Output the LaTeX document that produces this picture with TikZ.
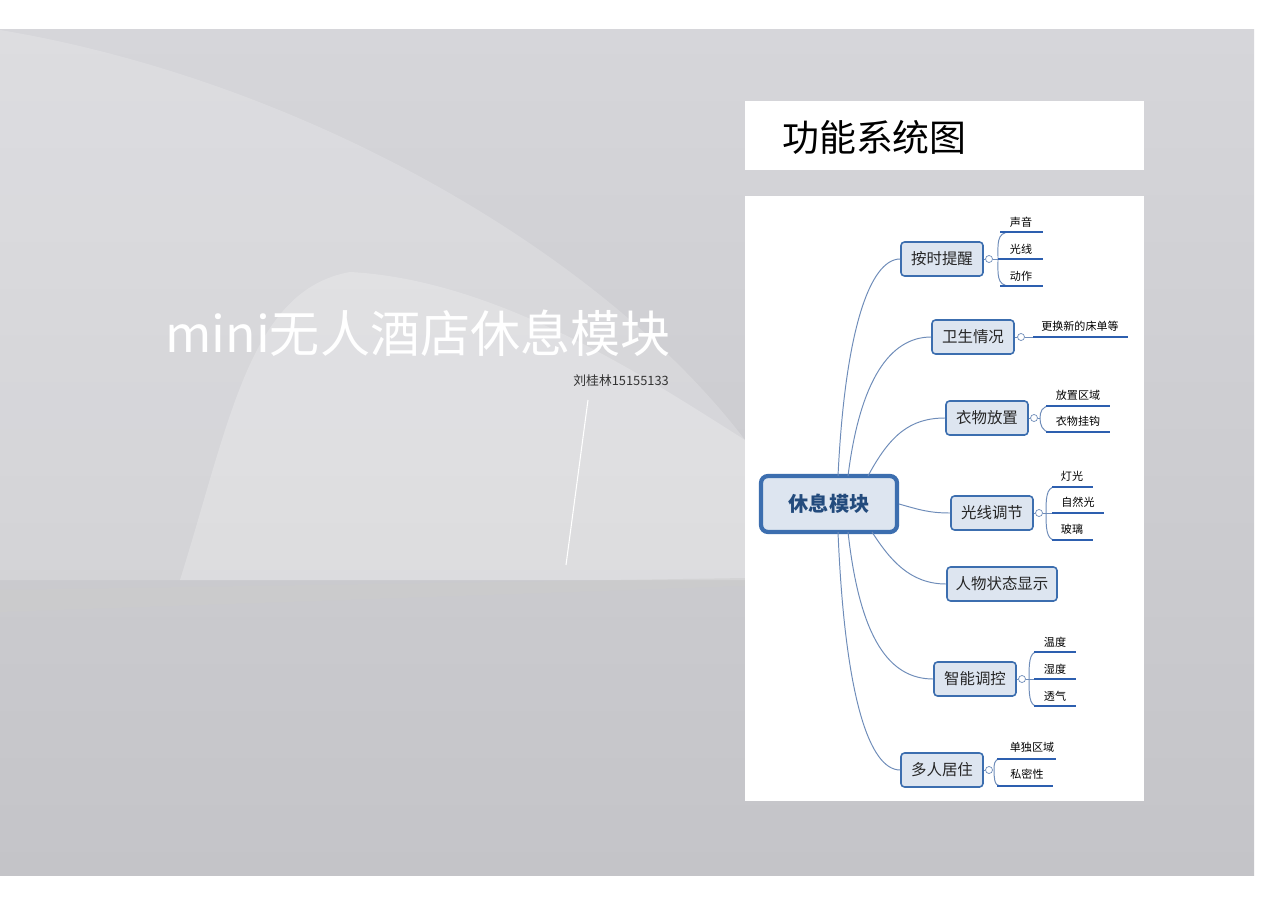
\documentclass[tikz,border=0pt]{standalone}
\usepackage{fontspec}
\setmainfont{Noto Sans CJK SC}
\definecolor{bd}{RGB}{60,110,175}
\definecolor{bf}{RGB}{221,229,240}
\definecolor{brc}{RGB}{110,140,185}
\definecolor{ll}{RGB}{45,95,175}
\definecolor{rt}{RGB}{35,75,125}
\definecolor{bgA}{RGB}{214,214,218}
\definecolor{bgB}{RGB}{196,196,200}
\begin{document}
\begin{tikzpicture}[x=0.02cm,y=-0.02cm,
 box/.style={draw=bd, fill=bf, rounded corners=2pt, line width=0.9pt, minimum width=82*0.02cm, minimum height=34*0.02cm, font=\fontsize{8.8}{9}\selectfont, text=black!85},
 leaf/.style={font=\fontsize{6.3}{7}\selectfont, text=black},
 lline/.style={draw=ll, line width=1.1pt},
 br/.style={draw=brc, line width=0.55pt},
 tog/.style={circle, draw=brc, fill=white, inner sep=0pt, minimum size=7*0.02cm, line width=0.4pt}]
\useasboundingbox (0,0) rectangle (1280,905);
\fill[white] (0,0) rectangle (1280,905);
\shade[top color=bgA, bottom color=bgB] (0,30) rectangle (1254,875);
\fill[white, opacity=0.18] (0,30) .. controls (300,80) and (600,250) .. (745,440) -- (745,580) -- (0,580) -- cycle;
\fill[white, opacity=0.22] (180,580) .. controls (230,420) and (250,290) .. (350,272) .. controls (500,280) and (650,380) .. (745,440) -- (745,580) -- cycle;
\fill[gray!40, opacity=0.5] (0,590) -- (745,578) -- (745,586) -- (0,612) -- cycle;
\draw[white, line width=0.6pt] (588,400) -- (566,565);
% main title
\node[text=white, font=\fontsize{28.5}{30}\selectfont] (maintitle) at (418,333) {mini无人酒店休息模块};
\node[text=black!80, font=\fontsize{7.3}{8}\selectfont, anchor=east] (author) at (675,381) {刘桂林15155133};
% title box
\fill[white] (745,101) rectangle (1144,170);
\node[font=\fontsize{21}{22}\selectfont, anchor=west] (ftitle) at (776,137) {功能系统图};
\fill[white] (745,196) rectangle (1144,801);
% root
\node[box, line width=2.4pt, minimum width=136*0.02cm, minimum height=56*0.02cm, rounded corners=4pt, font=\fontsize{11.5}{12}\selectfont\bfseries, text=rt] (root) at (829,504) {休息模块};
\node[box] (a) at (942,259) {按时提醒};
\node[box] (b) at (973,337) {卫生情况};
\node[box] (c) at (987,418) {衣物放置};
\node[box] (d) at (992,513) {光线调节};
\node[box, minimum width=110*0.02cm] (e) at (1002,584) {人物状态显示};
\node[box] (f) at (975,679) {智能调控};
\node[box] (g) at (942,770) {多人居住};
% connectors
\coordinate (r1) at (838,476); \coordinate (r2) at (848,476); \coordinate (r3) at (868,476);
\coordinate (r4) at (838,532); \coordinate (r5) at (848,532); \coordinate (r6) at (872,532);
\draw[br] (r1) .. controls (845,330) and (870,259) .. (a.west);
\draw[br] (r2) .. controls (860,380) and (890,337) .. (b.west);
\draw[br] (r3) .. controls (890,435) and (910,418) .. (c.west);
\draw[br] (root.east) .. controls (920,510) and (930,513) .. (d.west);
\draw[br] (r6) .. controls (890,560) and (910,584) .. (e.west);
\draw[br] (r5) .. controls (860,640) and (890,679) .. (f.west);
\draw[br] (r4) .. controls (845,700) and (870,770) .. (g.west);
% leaves
\newcommand{\grp}[4]{%
 \node[tog] (#4) at (#2,#3) {};
 \draw[br] (#1.east) -- (#4.west);}
\grp{a}{989}{259}{ta}
\draw[br] (ta.east) -- (998,259);
\draw[br] (1010,232) .. controls (996,232) and (998,245) .. (998,259) .. controls (998,273) and (996,286) .. (1010,286);
\draw[lline] (1000,232) -- (1043,232); \node[leaf] (a1) at (1021,222) {声音};
\draw[lline] (998,259) -- (1043,259); \node[leaf] (a2) at (1021,249) {光线};
\draw[lline] (1000,286) -- (1043,286); \node[leaf] (a3) at (1021,276) {动作};
\grp{b}{1021}{337}{tb}
\draw[lline] (1033,337) -- (1128,337); \node[leaf] (b1) at (1080,326) {更换新的床单等};
\draw[br] (tb.east) -- (1033,337);
\grp{c}{1034}{418}{tc}
\draw[br] (tc.east) -- (1040,418);
\draw[br] (1050,406) .. controls (1042,406) and (1040,412) .. (1040,418) .. controls (1040,424) and (1042,432) .. (1050,432);
\draw[lline] (1046,406) -- (1110,406); \node[leaf] (c1) at (1078,395) {放置区域};
\draw[lline] (1046,432) -- (1110,432); \node[leaf] (c2) at (1078,421) {衣物挂钩};
\grp{d}{1039}{513}{td}
\draw[br] (td.east) -- (1052,513);
\draw[br] (1055,487) .. controls (1046,487) and (1046,500) .. (1046,513) .. controls (1046,526) and (1046,540) .. (1055,540);
\draw[lline] (1052,487) -- (1093,487); \node[leaf] (d1) at (1072,476) {灯光};
\draw[lline] (1052,513) -- (1104,513); \node[leaf] (d2) at (1078,502) {自然光};
\draw[lline] (1052,540) -- (1093,540); \node[leaf] (d3) at (1072,529) {玻璃};
\grp{f}{1022}{679}{tf}
\draw[br] (tf.east) -- (1034,679);
\draw[br] (1037,652) .. controls (1029,652) and (1029,665) .. (1029,679) .. controls (1029,693) and (1029,706) .. (1037,706);
\draw[lline] (1034,652) -- (1076,652); \node[leaf] (f1) at (1055,642) {温度};
\draw[lline] (1034,679) -- (1076,679); \node[leaf] (f2) at (1055,669) {湿度};
\draw[lline] (1034,706) -- (1076,706); \node[leaf] (f3) at (1055,696) {透气};
\grp{g}{989}{770}{tg}
\draw[br] (1000,759) .. controls (994,759) and (994,765) .. (994,770) .. controls (994,776) and (994,786) .. (1000,786);
\draw[lline] (997,759) -- (1056,759); \node[leaf] (g1) at (1032,747) {单独区域};
\draw[lline] (997,786) -- (1053,786); \node[leaf] (g2) at (1027,774) {私密性};
\end{tikzpicture}
\end{document}
